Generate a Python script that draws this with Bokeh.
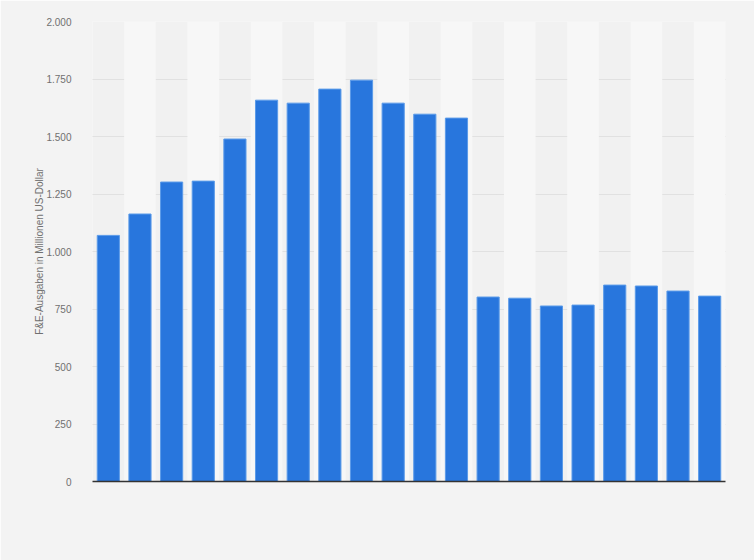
from bokeh.plotting import figure
from bokeh.models import Range1d, FixedTicker, ColumnDataSource
from bokeh.embed import file_html
from bokeh.resources import INLINE

# Data
positions = list(range(20))
values = [1070, 1163, 1302, 1306, 1489, 1658, 1645, 1706, 1745, 1645,
          1597, 1580, 802, 797, 763, 767, 854, 850, 828, 806]
y_ticks = [0, 250, 500, 750, 1000, 1250, 1500, 1750, 2000]
y_tick_labels = ["0", "250", "500", "750", "1.000", "1.250", "1.500", "1.750", "2.000"]
y_label = "F&E-Ausgaben in Millionen US-Dollar"

BG = "#f3f3f3"
p = figure(width=754, height=560, output_backend="svg", toolbar_location=None,
           x_range=Range1d(-0.5, len(positions) - 0.5), y_range=Range1d(0, 2000),
           min_border_left=92, min_border_right=29, min_border_top=21, min_border_bottom=79)
p.background_fill_color = "#f1f1f1"
p.border_fill_color = BG
p.outline_line_color = None

# alternating column bands
band_x = [x for x in positions if x % 2 == 1]
p.vbar(x=band_x, top=[y_ticks[-1]] * len(band_x), bottom=0, width=1.0,
       fill_color="#f7f7f7", line_color=None)

src = ColumnDataSource(dict(x=positions, top=values))
p.vbar(x="x", top="top", bottom=0, width=0.7, source=src,
       fill_color="#2876dd", line_color="#5b9be9", line_width=1)

p.xgrid.grid_line_color = None
p.ygrid.grid_line_color = "#d0d0d0"
p.ygrid.grid_line_dash = "1 1"
p.ygrid.grid_line_width = 1
p.ygrid.level = "underlay"

p.yaxis.ticker = FixedTicker(ticks=y_ticks)
p.yaxis.major_label_overrides = {t: l for t, l in zip(y_ticks, y_tick_labels)}
p.yaxis.axis_line_color = None
p.yaxis.major_tick_line_color = None
p.yaxis.minor_tick_line_color = None
p.yaxis.major_label_standoff = 15
p.yaxis.major_label_text_font = "Liberation Sans"
p.yaxis.major_label_text_font_size = "10px"
p.yaxis.major_label_text_color = "#707070"
p.yaxis.axis_label = y_label
p.yaxis.axis_label_text_font = "Liberation Sans"
p.yaxis.axis_label_text_font_size = "10px"
p.yaxis.axis_label_text_font_style = "normal"
p.yaxis.axis_label_text_color = "#707070"
p.yaxis.axis_label_standoff = -2

p.xaxis.ticker = FixedTicker(ticks=[])
p.xaxis.major_label_text_font_size = "0px"
p.xaxis.major_tick_line_color = None
p.xaxis.minor_tick_line_color = None
p.xaxis.axis_line_color = "#333333"
p.xaxis.axis_line_width = 1.5

html = file_html(p, INLINE)
html = html.replace("<body>", '<body style="background:%s">' % BG, 1)
open("out.html", "w").write(html)
